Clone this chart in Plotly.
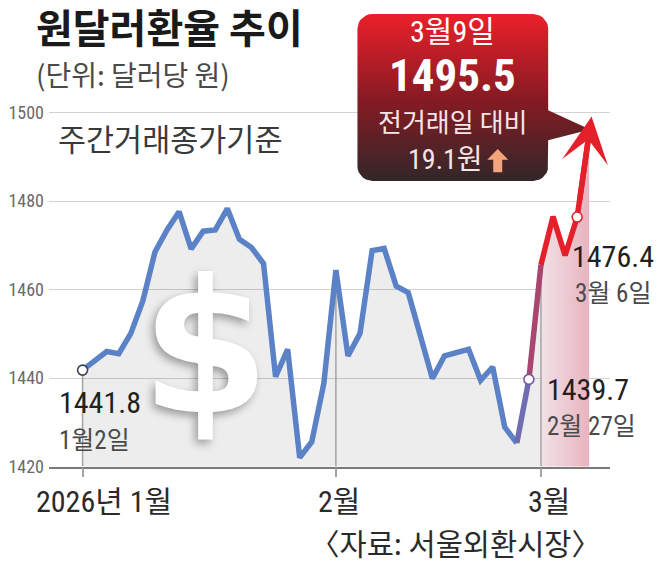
import numpy as np
import plotly.graph_objects as go

# 원달러 환율 (주간거래 종가, 달러당 원) - 2026년 거래일 기준
dates = ['1/2', '1/5', '1/6', '1/7', '1/8', '1/9', '1/12', '1/13', '1/14', '1/15', '1/16',
         '1/19', '1/20', '1/21', '1/22', '1/23', '1/26', '1/27', '1/28', '1/29', '1/30',
         '2/2', '2/3', '2/4', '2/5', '2/6', '2/9', '2/10', '2/11', '2/12', '2/13',
         '2/19', '2/20', '2/23', '2/24', '2/25', '2/26', '2/27',
         '3/3', '3/4', '3/5', '3/6', '3/9']
rates = [1441.8, 1443.9, 1446.0, 1445.5, 1450.1, 1457.5, 1468.5, 1473.5, 1477.6, 1469.2, 1473.2,
         1473.5, 1478.3, 1471.4, 1469.5, 1465.9, 1440.3, 1446.5, 1422.0, 1425.6, 1438.8,
         1464.4, 1445.0, 1450.1, 1468.8, 1469.3, 1460.8, 1459.3, 1449.8, 1439.9, 1445.0,
         1445.7, 1446.5, 1439.5, 1442.5, 1428.9, 1425.3, 1439.7,
         1465.6, 1476.5, 1467.7, 1476.4, 1495.5]

month_labels = ['2026년 1월', '2월', '3월']
y_ticks = [1420, 1440, 1460, 1480, 1500]

# 강조 포인트: (인덱스, 날짜 표기)
callouts = [(0, '1월2일'), (37, '2월 27일'), (41, '3월 6일')]

# 페이지 여백(8px)을 빼고 그린다 -> 좌표는 화면 픽셀 기준으로 적고 변환
PAD = 8
W, H = 663 - 2 * PAD, 570 - 2 * PAD
NARROW = "Roboto Condensed, Noto Sans CJK KR"
KR = "Noto Sans CJK KR"


def px(v):
    return (v - PAD) / W


def py(v):
    return 1 - (v - PAD) / H


x = list(range(len(rates)))
month_idx = [i for i in x if i == 0 or dates[i].split('/')[0] != dates[i - 1].split('/')[0]]
y_min = y_ticks[0]
i_red = month_idx[-1]          # 3월부터 빨간색
i_last = len(rates) - 1

BLUE = '#5b82c6'
RED = '#e4202b'

fig = go.Figure()

# 회색 영역 / 분홍 영역
fig.add_trace(go.Scatter(x=x[:i_red + 1], y=rates[:i_red + 1], mode='lines', line=dict(width=0),
                         fill='tozeroy', fillcolor='rgba(0,0,0,0.07)', hoverinfo='skip'))
fig.add_trace(go.Scatter(x=x[i_red:], y=rates[i_red:], mode='lines', line=dict(width=0),
                         fill='tozeroy',
                         fillgradient=dict(type='horizontal',
                                           colorscale=[[0, '#f1e2e5'], [1, '#e8b3bf']]),
                         hoverinfo='skip'))

# 월 경계 수직선
vx, vy = [], []
for i in month_idx:
    vx += [i, i, None]
    vy += [y_min, rates[i], None]
fig.add_trace(go.Scatter(x=vx, y=vy, mode='lines', line=dict(color='#a3a3a3', width=1.5),
                         hoverinfo='skip'))

# 라인 (파랑 -> 보라 -> 빨강)
fig.add_trace(go.Scatter(x=x[:i_red - 1], y=rates[:i_red - 1], mode='lines',
                         line=dict(color=BLUE, width=5.5)))
fig.add_trace(go.Scatter(x=x[i_red - 2:i_red], y=rates[i_red - 2:i_red], mode='lines',
                         line=dict(color='#6f6db0', width=5.5)))
fig.add_trace(go.Scatter(x=x[i_red - 1:i_red + 1], y=rates[i_red - 1:i_red + 1], mode='lines',
                         line=dict(color='#a8466f', width=5.5)))
fig.add_trace(go.Scatter(x=x[i_red:], y=rates[i_red:], mode='lines',
                         line=dict(color=RED, width=5.5)))

# 원형 마커
mk_colors = ['#3b4358', '#7a5a9c', RED]
fig.add_trace(go.Scatter(x=[c[0] for c in callouts], y=[rates[c[0]] for c in callouts],
                         mode='markers',
                         marker=dict(size=10, color='white',
                                     line=dict(color=mk_colors, width=1.6))))

# 화살표 머리 (선 방향으로 조금 밀어 끝을 뾰족하게)
fig.add_annotation(x=i_last, y=rates[i_last], ax=i_last - 1, ay=rates[i_last - 1],
                   xref='x', yref='y', axref='x', ayref='y', text='', showarrow=True,
                   arrowhead=3, arrowsize=1.4, arrowwidth=5.5, arrowcolor=RED, standoff=0,
                   xshift=2.4, yshift=16)

# 값 / 날짜 라벨
offsets = [(-26, -26, -32, -70), (16, 16, -10, -47), (-7, -4, -39, -76)]
for (i, lab), (dx1, dx2, dy1, dy2) in zip(callouts, offsets):
    fig.add_annotation(x=i, y=rates[i], xref='x', yref='y', text=f'{rates[i]:.1f}',
                       showarrow=False, xanchor='left', yanchor='middle', xshift=dx1, yshift=dy1,
                       font=dict(family=NARROW, size=30, color='#231f20'))
    fig.add_annotation(x=i, y=rates[i], xref='x', yref='y', text=lab,
                       showarrow=False, xanchor='left', yanchor='middle', xshift=dx2, yshift=dy2,
                       font=dict(family=NARROW, size=25, color='#4a4a4a'))

# 월 라벨
for i, lab, sh in zip(month_idx, month_labels, [21, 3, 8]):
    fig.add_annotation(x=i, y=y_min, xref='x', yref='y', text=lab, showarrow=False,
                       xanchor='center', yanchor='middle', xshift=sh, yshift=-35,
                       font=dict(family=NARROW, size=30, color='#2a2a2a'))

# 달러 기호
fig.add_annotation(x=px(205), y=py(352), xref='paper', yref='paper', text='$',
                   showarrow=False, xanchor='center', yanchor='middle',
                   font=dict(family='DejaVu Sans', size=185, color='white', weight='bold',
                             shadow='-3px 4px 8px rgba(0,0,0,0.35)'))


# 제목 등 텍스트
def ptext(txt, x0, y0, size, color, family=KR, anchor='left', weight='normal', align='center'):
    fig.add_annotation(x=px(x0), y=py(y0), xref='paper', yref='paper', text=txt,
                       showarrow=False, xanchor=anchor, yanchor='middle', align=align,
                       font=dict(family=family, size=size, color=color, weight=weight))


# 제목 + 단위 (한 덩어리)
ptext('<span style="font-size:40px;font-weight:bold;color:#1a1a1a">원달러환율 추이</span><br>'
      '<span style="font-size:28px">(단위: 달러당 원)</span>',
      33, 40, 33, '#4a4a4a', align='left')
ptext('주간거래종가기준', 55, 136, 30.5, '#3a3a3a')
ptext('〈자료: 서울외환시장〉', 603, 552, 29.5, '#2a2a2a', anchor='right')


# 말풍선 (둥근 사각형 + 꼬리)
def bubble(x0, y0, x1, y1, r, tail):
    xs, ys = [], []
    corners = [(x1 - r, y0 + r, -90, 0), (x1 - r, y1 - r, 0, 90),
               (x0 + r, y1 - r, 90, 180), (x0 + r, y0 + r, 180, 270)]
    for k, (cx, cy, a0, a1) in enumerate(corners):
        t = np.radians(np.linspace(a0, a1, 8))
        xs += list(cx + r * np.cos(t))
        ys += list(cy + r * np.sin(t))
        if k == 0:
            for tx, ty in tail:
                xs.append(tx)
                ys.append(ty)
    xs.append(xs[0])
    ys.append(ys[0])
    return xs, ys


bx, by = bubble(357, 8, 548, 180, 15, [(548, 107), (590, 127), (548, 138)])
fig.add_trace(go.Scatter(x=bx, y=by, xaxis='x2', yaxis='y2', mode='lines', line=dict(width=0),
                         fill='toself',
                         fillgradient=dict(type='vertical', start=8, stop=180,
                                           colorscale=[[0, '#eb2029'], [0.5, '#851b23'],
                                                       [1, '#2c2829']]),
                         hoverinfo='skip'))
# 상승 화살표 아이콘
ux = [497.5, 508, 502, 502, 493, 493, 487, 497.5]
uy = [147, 158, 158, 171, 171, 158, 158, 147]
fig.add_trace(go.Scatter(x=ux, y=uy, xaxis='x2', yaxis='y2', mode='lines', line=dict(width=0),
                         fill='toself', fillcolor='#f3a47a', hoverinfo='skip'))

ptext('3월9일', 452, 26, 30, 'white', family=NARROW, anchor='center')
ptext('1495.5', 452, 71, 45, 'white', family=NARROW, anchor='center', weight='bold')
ptext('전거래일 대비', 453, 120, 26, '#f4e6e6', family=NARROW, anchor='center')
ptext('19.1원', 485, 158, 28, '#f4e6e6', family=NARROW, anchor='right')

fig.update_layout(
    width=W, height=H,
    margin=dict(l=0, r=0, t=0, b=0),
    paper_bgcolor='white', plot_bgcolor='rgba(0,0,0,0)',
    showlegend=False,
    xaxis=dict(domain=[px(48), px(610)], range=[-2.79, 43.73], tickvals=month_idx,
               showticklabels=False, ticks='outside', ticklen=9, tickwidth=1.5,
               tickcolor='#a3a3a3', showgrid=False, zeroline=False,
               showline=True, linecolor='#7a7a7a', linewidth=1.5),
    yaxis=dict(domain=[py(474), py(105)], range=[y_min, 1501], tickvals=y_ticks,
               showgrid=True, gridcolor='#d2d2d2', gridwidth=1, zeroline=False,
               ticks='', ticklabelstandoff=4,
               tickfont=dict(family=NARROW, size=18, color='#6a6a6a')),
    xaxis2=dict(domain=[0, 1], range=[PAD, PAD + W], visible=False, anchor='y2'),
    yaxis2=dict(domain=[0, 1], range=[PAD + H, PAD], visible=False, anchor='x2'),
)

fig.write_html("out.html")
